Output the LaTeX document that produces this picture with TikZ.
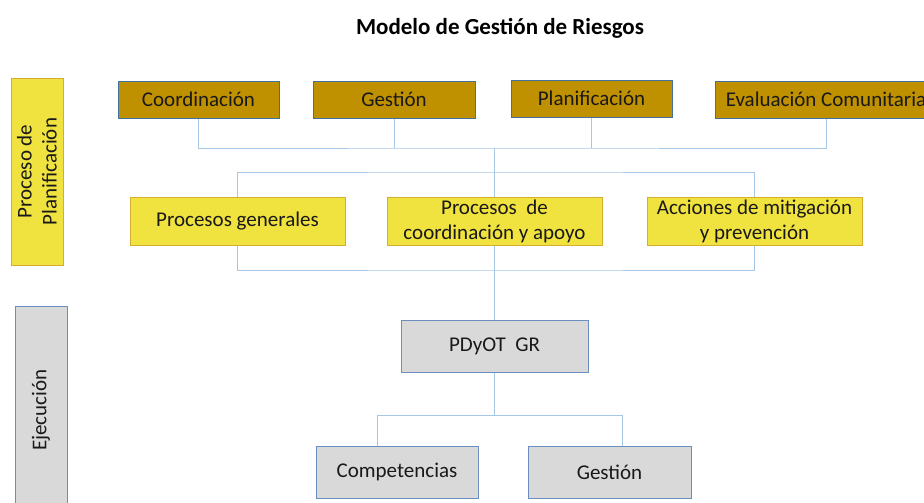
\documentclass[tikz,border=0pt]{standalone}
\usepackage{fontspec}
\setmainfont{Carlito}
\usetikzlibrary{backgrounds}
\definecolor{brownfill}{HTML}{BF9000}
\definecolor{brownline}{HTML}{41719C}
\definecolor{yelfill}{HTML}{F0E23F}
\definecolor{yelline}{HTML}{D4AE2C}
\definecolor{grayfill}{HTML}{D9D9D9}
\definecolor{grayline}{HTML}{6A8EBF}
\definecolor{conn}{HTML}{A7C7E7}
\tikzset{
  base/.style={inner sep=0pt, line width=0.9pt, align=center, font=\fontsize{21}{25}\selectfont, text=black!90},
  brownbox/.style={base, fill=brownfill, draw=brownline},
  yelbox/.style={base, fill=yelfill, draw=yelline},
  graybox/.style={base, fill=grayfill, draw=grayline},
  link/.style={draw=conn, line width=0.9pt},
}
\begin{document}
\begin{tikzpicture}[x=1pt, y=-1pt]
\useasboundingbox (0,0) rectangle (924,503);
\clip (0,0) rectangle (924,503);

\node[font=\fontsize{23}{28}\selectfont\bfseries] (title) at (500,28) {Modelo de Gestión de Riesgos};

% side labels
\node[yelbox, rotate=90, minimum width=187pt, minimum height=52pt] (plan) at (37,171.5) {Proceso de\\Planificación};
\node[graybox, rotate=90, minimum width=208pt, minimum height=52pt] (ejec) at (41,410) {Ejecución};

% top row
\node[brownbox, minimum width=161pt, minimum height=37pt] (coord) at (198.5,99.5) {Coordinación};
\node[brownbox, minimum width=162pt, minimum height=37pt] (gest) at (394,99.5) {Gestión};
\node[brownbox, minimum width=161pt, minimum height=37pt] (planif) at (591.5,98.5) {Planificación};
\node[brownbox, minimum width=222pt, minimum height=37pt] (eval) at (826,99.5) {Evaluación Comunitaria};

% second row
\node[yelbox, minimum width=215pt, minimum height=48pt] (pg) at (237.5,221) {Procesos generales};
\node[yelbox, minimum width=215pt, minimum height=48pt] (pca) at (494.5,221) {Procesos\ \ de\\coordinación y apoyo};
\node[yelbox, minimum width=215pt, minimum height=48pt] (acc) at (754.5,221) {Acciones de mitigación\\y prevención};

% execution
\node[graybox, minimum width=187pt, minimum height=52pt] (pdyot) at (494.5,346) {PDyOT\ \ GR};
\node[graybox, minimum width=162pt, minimum height=52pt] (comp) at (397,472) {Competencias};
\node[graybox, minimum width=163pt, minimum height=52pt] (gest2) at (609.5,472) {Gestión};

% bus coordinates
\coordinate (bus1) at (494.5,148);
\coordinate (bus2) at (494.5,172);
\coordinate (bus3) at (494.5,270);
\coordinate (bus4) at (494.5,415);
\coordinate (b4l) at (377,415);
\coordinate (b4r) at (622,415);

\begin{scope}[on background layer]
\fill[white] (0,0) rectangle (924,503);
\draw[link] (coord.south) |- (bus1) -| (eval.south);
\draw[link] (gest.south) -- (gest.south |- bus1);
\draw[link] (planif.south) -- (planif.south |- bus1);
\draw[link] (bus1) -- (pdyot.north);
\draw[link] (pg.north) |- (bus2) -| (acc.north);
\draw[link] (pg.south) |- (bus3) -| (acc.south);
\draw[link] (pdyot.south) -- (bus4);
\draw[link] (b4l |- comp.north) -- (b4l) -- (b4r) -- (b4r |- gest2.north);
\end{scope}
\end{tikzpicture}
\end{document}
